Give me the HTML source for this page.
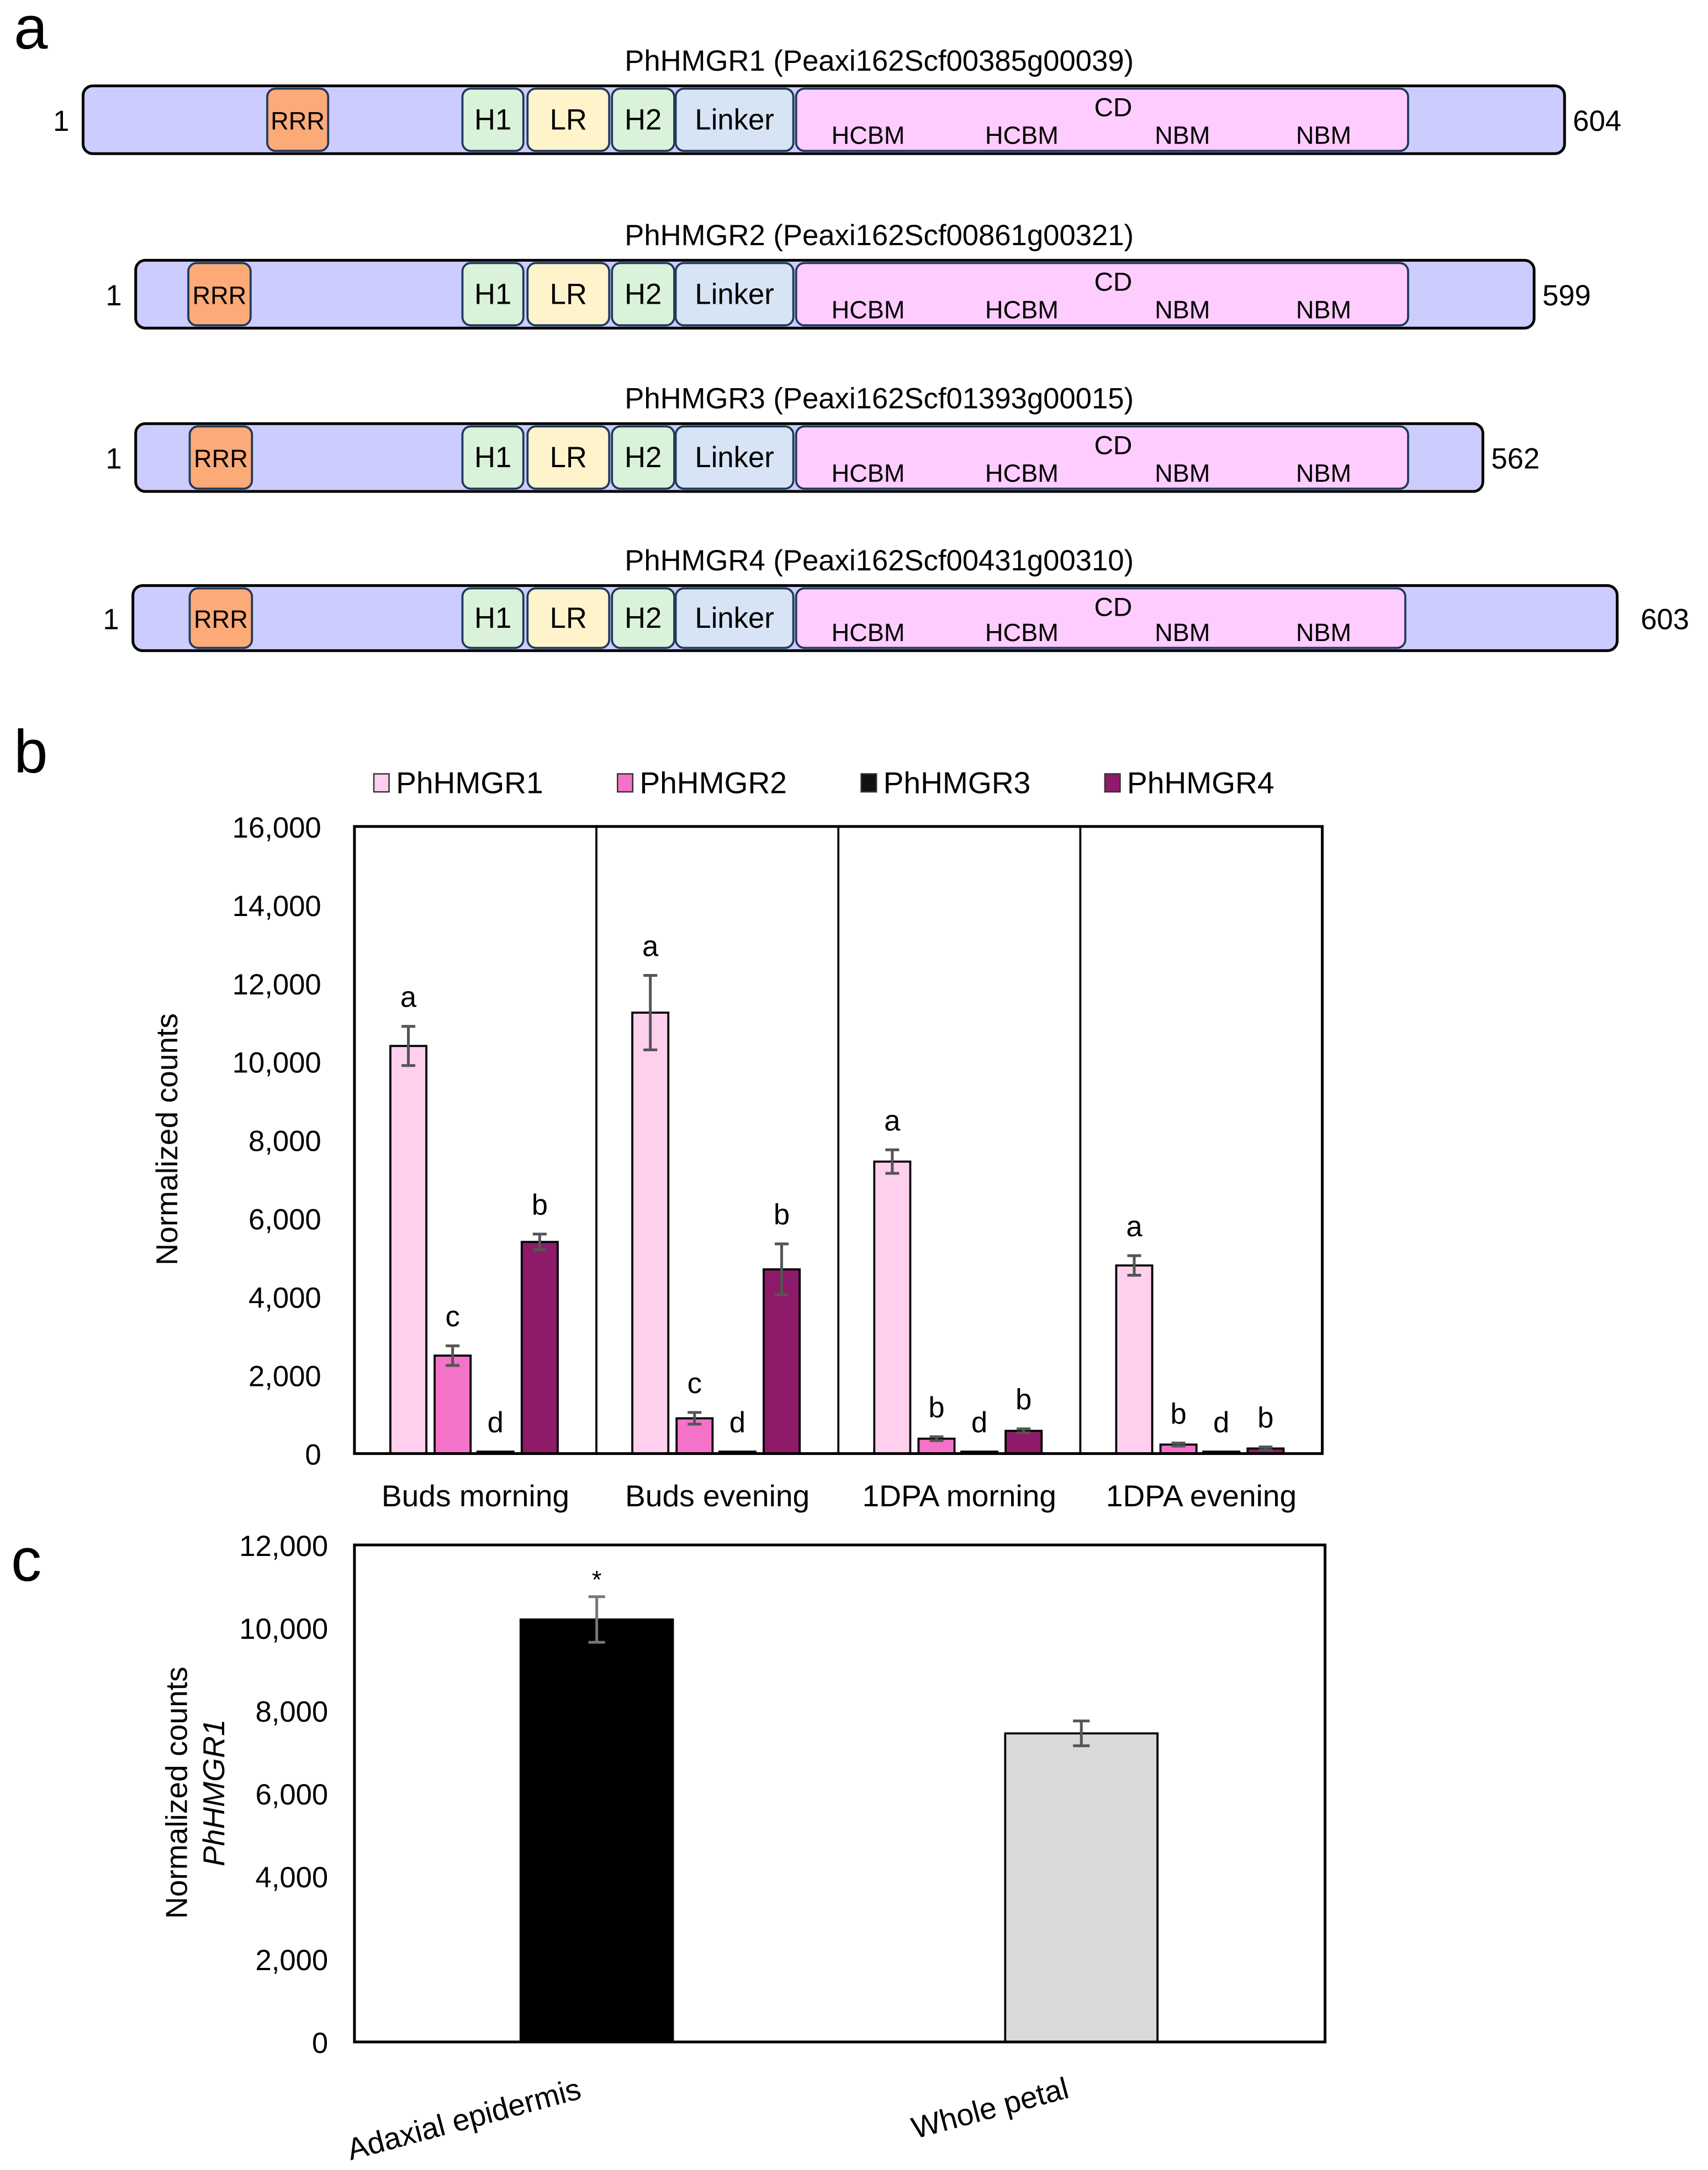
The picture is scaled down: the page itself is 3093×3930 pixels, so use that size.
<!DOCTYPE html>
<html><head><meta charset="utf-8"><style>
html,body{margin:0;padding:0;background:#fff}
svg{display:block}
text{font-family:"Liberation Sans",Arial,sans-serif;fill:#000}
</style></head><body>
<svg id="fig" width="3093" height="3930" viewBox="0 0 1233.6 1567.5" preserveAspectRatio="none" xmlns="http://www.w3.org/2000/svg">
<g id="panelA"></g>
<g id="panelB"></g>
<g id="panelC"></g>
</svg>
<script>
// ---------- Panel b data ----------
const bCategories = ["Buds morning","Buds evening","1DPA morning","1DPA evening"];
const bSeriesNames = ["PhHMGR1","PhHMGR2","PhHMGR3","PhHMGR4"];
const bHMGR1 = [10400, 11250, 7450, 4800];
const bHMGR1err = [500, 950, 300, 250];
const bHMGR2 = [2500, 900, 380, 230];
const bHMGR2err = [250, 150, 50, 40];
const bHMGR3 = [50, 50, 50, 50];
const bHMGR3err = [0, 0, 0, 0];
const bHMGR4 = [5400, 4700, 580, 130];
const bHMGR4err = [200, 650, 50, 40];
const bLetters1 = ["a","a","a","a"];
const bLetters2 = ["c","c","b","b"];
const bLetters3 = ["d","d","d","d"];
const bLetters4 = ["b","b","b","b"];
const bTicks = [0,2000,4000,6000,8000,10000,12000,14000,16000];
const bTickLabels = ["0","2,000","4,000","6,000","8,000","10,000","12,000","14,000","16,000"];
// ---------- Panel c data ----------
const cCategories = ["Adaxial epidermis","Whole petal"];
const cValues = [10200, 7450];
const cErrors = [550, 300];
const cSig = ["*",""];
const cTicks = [0,2000,4000,6000,8000,10000,12000];
const cTickLabels = ["0","2,000","4,000","6,000","8,000","10,000","12,000"];

const NS="http://www.w3.org/2000/svg";
function mk(parent,tag,attrs,txt){const e=document.createElementNS(NS,tag);for(const k in attrs)e.setAttribute(k,attrs[k]);if(txt!==undefined)e.textContent=txt;parent.appendChild(e);return e;}

// ---------- Panel a ----------
const A=document.getElementById('panelA');
let lab=mk(A,'text',{x:10,y:35,'font-size':44},'a');


const proteins=[
 {t:"PhHMGR1 (Peaxi162Scf00385g00039)",x0:60,x1:1130,y:62,h:49,rrr:[193,237],end:"604",cd:1017},
 {t:"PhHMGR2 (Peaxi162Scf00861g00321)",x0:98,x1:1108,y:188,h:49,rrr:[136,181],end:"599",cd:1017},
 {t:"PhHMGR3 (Peaxi162Scf01393g00015)",x0:98,x1:1071,y:306,h:49,rrr:[137,182],end:"562",cd:1017},
 {t:"PhHMGR4 (Peaxi162Scf00431g00310)",x0:96,x1:1168,y:423,h:47,rrr:[137,182],end:"603",cd:1015}
];
proteins.forEach((p,i)=>{
 const g=mk(A,'g',{});
 
 
 mk(g,'text',{x:635,y:p.y-11,'font-size':21,'text-anchor':'middle'},p.t);
 mk(g,'rect',{x:p.x0,y:p.y,width:p.x1-p.x0,height:p.h,rx:7,fill:'#ccccff',stroke:'#000','stroke-width':2});
 mk(g,'text',{x:p.x0-10,y:p.y+p.h/2+8,'font-size':21,'text-anchor':'end'},'1');
 mk(g,'text',{x:p.x1+(i==3?17:6),y:p.y+p.h/2+8,'font-size':21},p.end);
 const yy=p.y+2,hh=p.h-4;
 const doms=[[p.rrr[0],p.rrr[1],'#fbaa78','RRR',18],[334,378,'#d9f2d9','H1',21],[381,440,'#fff3cc','LR',21],[442,487,'#d9f2d9','H2',21],[488,573,'#d6e4f5','Linker',21]];
 doms.forEach(d=>{
  mk(g,'rect',{x:d[0],y:yy,width:d[1]-d[0],height:hh,rx:6,fill:d[2],stroke:'#1f3a5a','stroke-width':1.5});
  mk(g,'text',{x:(d[0]+d[1])/2,y:yy+hh/2+7,'font-size':d[4],'text-anchor':'middle'},d[3]);
 });
 mk(g,'rect',{x:575,y:yy,width:p.cd-575,height:hh,rx:6,fill:'#ffccff',stroke:'#1f3a5a','stroke-width':1.5});
 mk(g,'text',{x:804,y:yy+20,'font-size':19,'text-anchor':'middle'},'CD');
 [[627,'HCBM'],[738,'HCBM'],[854,'NBM'],[956,'NBM']].forEach(m=>mk(g,'text',{x:m[0],y:yy+hh-5,'font-size':18,'text-anchor':'middle'},m[1]));
});

// ---------- Panel b ----------
const B=document.getElementById('panelB');
lab=mk(B,'text',{x:10,y:558,'font-size':44},'b');


const bx0=256,bx1=955,by0=1050,by1=597,bMax=16000;
const yB=v=>by0-(v/bMax)*(by0-by1);
const grpW=(bx1-bx0)/bCategories.length;
const colors=['#ffd0ee','#f472c8','#111111','#8e1a6a'];
const series=[bHMGR1,bHMGR2,bHMGR3,bHMGR4];
const errs=[bHMGR1err,bHMGR2err,bHMGR3err,bHMGR4err];
const letters=[bLetters1,bLetters2,bLetters3,bLetters4];
const legX=[270,446,622,798];
bSeriesNames.forEach((n,i)=>{
 const lg=mk(B,'g',{});
 
 
 mk(lg,'rect',{x:legX[i],y:559,width:11,height:13,fill:colors[i],stroke:'#333','stroke-width':1});
 mk(lg,'text',{x:legX[i]+16,y:573,'font-size':22},n);
});
bTicks.forEach((t,i)=>{
 const tl=mk(B,'text',{x:232,y:yB(t)+8,'font-size':21,'text-anchor':'end'},bTickLabels[i]);
 
 
});
const yt=mk(B,'text',{x:0,y:0,'font-size':22,'text-anchor':'middle',transform:'translate(128,823) rotate(-90)'},'Normalized counts');


const bw=26,offs=[39,71,102,134];
bCategories.forEach((c,gi)=>{
 const gx=bx0+gi*grpW;
 series.forEach((s,si)=>{
  const cx=gx+offs[si]*(grpW/175);
  const v=s[gi],top=yB(v);
  const r=mk(B,'rect',{x:cx-bw/2,y:top,width:bw,height:by0-top,fill:colors[si],stroke:'#000','stroke-width':1.5});
  
  
  const e=errs[si][gi];
  if(e>0){
   const ya=yB(v+e),yb=yB(v-e);
   mk(B,'path',{d:`M${cx},${ya}V${yb}M${cx-5},${ya}H${cx+5}M${cx-5},${yb}H${cx+5}`,stroke:'#555','stroke-width':2,fill:'none'});
  }
  mk(B,'text',{x:cx,y:yB(v+e)-14,'font-size':21,'text-anchor':'middle'},letters[si][gi]);
 });
 const cl=mk(B,'text',{x:gx+grpW/2,y:1088,'font-size':22,'text-anchor':'middle'},c);
 
 
 if(gi>0) mk(B,'line',{x1:gx,y1:by1,x2:gx,y2:by0,stroke:'#000','stroke-width':1.5});
});
const fr=mk(B,'rect',{x:bx0,y:by1,width:bx1-bx0,height:by0-by1,fill:'none',stroke:'#000','stroke-width':2});



// ---------- Panel c ----------
const C=document.getElementById('panelC');
lab=mk(C,'text',{x:8,y:1142,'font-size':44},'c');


const cx0=256,cx1=957,cy0=1475,cy1=1116,cMax=12000;
const yC=v=>cy0-(v/cMax)*(cy0-cy1);
cTicks.forEach((t,i)=>{
 const tl=mk(C,'text',{x:237,y:yC(t)+8,'font-size':21,'text-anchor':'end'},cTickLabels[i]);
 
 
});
const ct=mk(C,'text',{x:0,y:0,'font-size':22,'text-anchor':'middle',transform:'translate(135,1295) rotate(-90)'},'Normalized counts');


const ct2=mk(C,'text',{x:0,y:0,'font-size':22,'font-style':'italic','text-anchor':'middle',transform:'translate(162,1295) rotate(-90)'},'PhHMGR1');


const cCols=['#000000','#d9d9d9'];
const cCenters=[431,781];
cCategories.forEach((c,i)=>{
 const ccx=cCenters[i];
 const v=cValues[i],top=yC(v);
 const r=mk(C,'rect',{x:ccx-55,y:top,width:110,height:cy0-top,fill:cCols[i],stroke:'#000','stroke-width':1.5});
 
 
 const e=cErrors[i],ya=yC(v+e),yb=yC(v-e);
 mk(C,'path',{d:`M${ccx},${ya}V${yb}M${ccx-6},${ya}H${ccx+6}M${ccx-6},${yb}H${ccx+6}`,stroke:i==0?'#777':'#555','stroke-width':2,fill:'none'});
 if(cSig[i]) mk(C,'text',{x:ccx,y:ya-6,'font-size':18,'text-anchor':'middle'},cSig[i]);
 const lx=i==0?337:717,ly=i==0?1538:1530;
 const xl=mk(C,'text',{x:0,y:0,'font-size':22,'text-anchor':'middle',transform:`translate(${lx},${ly}) rotate(-15)`},c);
 
 
});
const cf=mk(C,'rect',{x:cx0,y:cy1,width:cx1-cx0,height:cy0-cy1,fill:'none',stroke:'#000','stroke-width':2});


</script>
</body></html>
